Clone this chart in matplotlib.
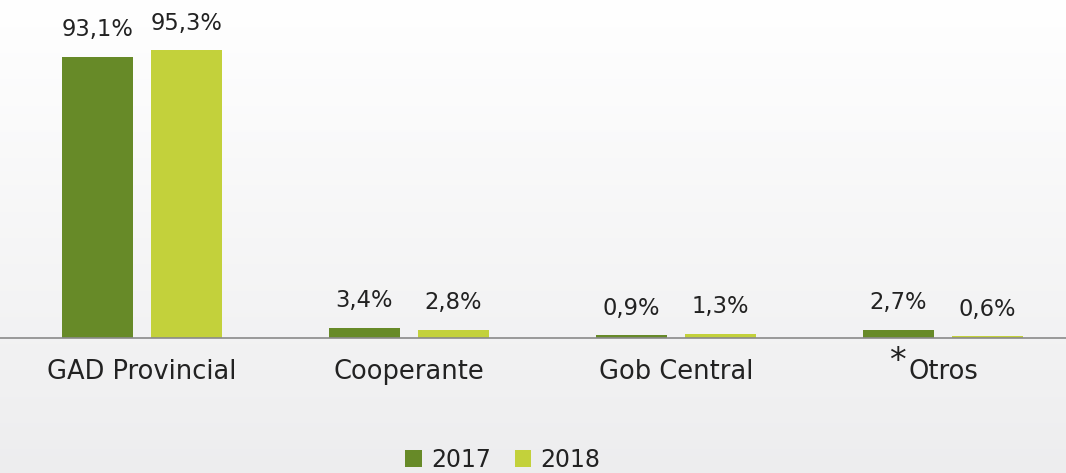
import matplotlib
matplotlib.use("Agg")
import matplotlib.pyplot as plt
import numpy as np

categories = ["GAD Provincial", "Cooperante", "Gob Central", "Otros"]
series_names = ["2017", "2018"]
values_2017 = [93.1, 3.4, 0.9, 2.7]
values_2018 = [95.3, 2.8, 1.3, 0.6]
labels_2017 = ["93,1%", "3,4%", "0,9%", "2,7%"]
labels_2018 = ["95,3%", "2,8%", "1,3%", "0,6%"]

c17 = "#678A28"
c18 = "#C3D13B"

plt.rcParams['font.family'] = ['DejaVu Sans']

fig = plt.figure(figsize=(10.66, 4.73), dpi=100)

# background gradient
bg = fig.add_axes([0, 0, 1, 1], zorder=-10)
grad = np.linspace(1.0, 0.0, 256)[:, None]
r = 1.0 - 0.07 * (1 - grad)
img = np.dstack([r, r, r + 0.005 * (1 - grad)])
img = np.clip(img, 0, 1)
img = np.repeat(img, 4, axis=1)
bg.imshow(img, aspect='auto', extent=[0, 1, 0, 1])
bg.axis('off')

ax = fig.add_axes([0, (473 - 338) / 473, 1, 338 / 473])
ax.patch.set_alpha(0)
x = np.arange(len(categories))
w = 0.266
off = 0.1667
b1 = ax.bar(x - off, values_2017, w, color=c17, label=series_names[0])
b2 = ax.bar(x + off, values_2018, w, color=c18, label=series_names[1])

for bars, labs in ((b1, labels_2017), (b2, labels_2018)):
    for b, t in zip(bars, labs):
        ax.annotate(t, (b.get_x() + b.get_width() / 2, b.get_height()),
                    xytext=(0, 19.5), textcoords='offset points',
                    ha='center', va='center', fontsize=16.3, color='#222222')

xmin = -142 / 267
ax.set_xlim(xmin, xmin + 1066 / 267)
ax.set_ylim(0, 338 / 3.02)
ax.set_yticks([])
ax.set_xticks(x)
ax.set_xticklabels(categories, fontsize=18.5, color='#222222')
ax.tick_params(axis='x', length=0, pad=15)
for s in ['top', 'right', 'left']:
    ax.spines[s].set_visible(False)
ax.spines['bottom'].set_color('#8a8a8a')
ax.spines['bottom'].set_linewidth(1.2)

# asterisk for Otros
ax.annotate("*", (3, 0), xytext=(-33, -17), textcoords='offset points',
            ha='center', va='center', fontsize=24, color='#222222')

leg = fig.legend(handles=[b1, b2], labels=series_names, loc='center',
                 bbox_to_anchor=(503 / 1066, 1 - 460 / 473), ncol=2,
                 frameon=False, fontsize=17, handlelength=0.7, handleheight=0.7,
                 handletextpad=0.4, columnspacing=1.0)
for t in leg.get_texts():
    t.set_color('#222222')

fig.savefig("out.png", dpi=100)
